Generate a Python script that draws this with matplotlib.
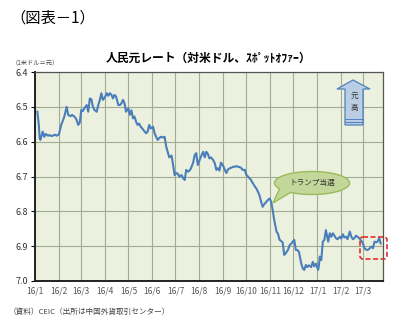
import numpy as np
import pandas as pd
import matplotlib
matplotlib.use("Agg")
import matplotlib.pyplot as plt
import matplotlib.dates as mdates
import matplotlib.transforms as mtrans
from matplotlib.patches import Polygon, FancyBboxPatch

plt.rcParams['font.family'] = ['Noto Sans CJK JP', 'DejaVu Sans']

# 人民元レート（1米ドル＝元）: 図から読み取った値
dates = [
    '2016-01-04', '2016-01-06', '2016-01-07', '2016-01-08', '2016-01-11', '2016-01-13', '2016-01-15',
    '2016-01-18', '2016-01-20', '2016-01-22', '2016-01-25', '2016-01-27', '2016-01-29', '2016-02-01',
    '2016-02-04', '2016-02-08', '2016-02-11', '2016-02-13', '2016-02-16', '2016-02-18', '2016-02-22',
    '2016-02-24', '2016-02-26', '2016-02-28', '2016-03-01', '2016-03-03', '2016-03-05', '2016-03-08',
    '2016-03-10', '2016-03-12', '2016-03-14', '2016-03-16', '2016-03-18', '2016-03-21', '2016-03-23',
    '2016-03-25', '2016-03-27', '2016-03-29', '2016-04-01', '2016-04-03', '2016-04-05', '2016-04-07',
    '2016-04-09', '2016-04-11', '2016-04-13', '2016-04-15', '2016-04-18', '2016-04-20', '2016-04-22',
    '2016-04-24', '2016-04-26', '2016-04-28', '2016-05-01', '2016-05-03', '2016-05-05', '2016-05-07',
    '2016-05-09', '2016-05-11', '2016-05-13', '2016-05-15', '2016-05-17', '2016-05-19', '2016-05-22',
    '2016-05-24', '2016-05-26', '2016-05-28', '2016-05-30', '2016-06-02', '2016-06-04', '2016-06-06',
    '2016-06-08', '2016-06-10', '2016-06-12', '2016-06-15', '2016-06-17', '2016-06-19', '2016-06-21',
    '2016-06-23', '2016-06-26', '2016-06-28', '2016-06-30', '2016-07-02', '2016-07-04', '2016-07-06',
    '2016-07-09', '2016-07-11', '2016-07-13', '2016-07-15', '2016-07-17', '2016-07-19', '2016-07-21',
    '2016-07-24', '2016-07-26', '2016-07-28', '2016-07-30', '2016-08-01', '2016-08-03', '2016-08-06',
    '2016-08-08', '2016-08-10', '2016-08-12', '2016-08-14', '2016-08-16', '2016-08-19', '2016-08-21',
    '2016-08-23', '2016-08-25', '2016-08-27', '2016-08-29', '2016-09-01', '2016-09-03', '2016-09-05',
    '2016-09-07', '2016-09-09', '2016-09-11', '2016-09-14', '2016-09-16', '2016-09-18', '2016-09-20',
    '2016-09-22', '2016-09-24', '2016-09-26', '2016-09-29', '2016-10-01', '2016-10-03', '2016-10-05',
    '2016-10-07', '2016-10-09', '2016-10-12', '2016-10-14', '2016-10-16', '2016-10-18', '2016-10-20',
    '2016-10-22', '2016-10-24', '2016-10-27', '2016-10-29', '2016-10-31', '2016-11-02', '2016-11-04',
    '2016-11-06', '2016-11-09', '2016-11-11', '2016-11-13', '2016-11-15', '2016-11-17', '2016-11-19',
    '2016-11-21', '2016-11-24', '2016-11-26', '2016-11-28', '2016-11-30', '2016-12-02', '2016-12-04',
    '2016-12-06', '2016-12-08', '2016-12-11', '2016-12-13', '2016-12-15', '2016-12-17', '2016-12-19',
    '2016-12-21', '2016-12-24', '2016-12-26', '2016-12-28', '2016-12-30', '2017-01-02', '2017-01-03',
    '2017-01-04', '2017-01-06', '2017-01-08', '2017-01-10', '2017-01-12', '2017-01-15', '2017-01-17',
    '2017-01-19', '2017-01-21', '2017-01-23', '2017-01-25', '2017-01-27', '2017-01-30', '2017-02-01',
    '2017-02-03', '2017-02-05', '2017-02-07', '2017-02-09', '2017-02-12', '2017-02-14', '2017-02-16',
    '2017-02-18', '2017-02-20', '2017-02-22', '2017-02-24', '2017-02-27', '2017-03-01', '2017-03-03',
    '2017-03-05', '2017-03-07', '2017-03-09', '2017-03-12', '2017-03-14', '2017-03-16', '2017-03-18',
    '2017-03-20', '2017-03-22', '2017-03-24',
]
rates = [
    6.514, 6.553, 6.590, 6.595, 6.571, 6.586, 6.578,
    6.583, 6.581, 6.584, 6.582, 6.580, 6.583, 6.579,
    6.552, 6.528, 6.500, 6.523, 6.527, 6.523, 6.530,
    6.538, 6.552, 6.545, 6.509, 6.512, 6.504, 6.495,
    6.514, 6.476, 6.478, 6.500, 6.509, 6.514, 6.495,
    6.480, 6.461, 6.480, 6.471, 6.461, 6.468, 6.461,
    6.465, 6.476, 6.466, 6.470, 6.495, 6.495, 6.490,
    6.480, 6.490, 6.514, 6.504, 6.523, 6.510, 6.533,
    6.528, 6.543, 6.552, 6.548, 6.557, 6.562, 6.571,
    6.576, 6.571, 6.552, 6.562, 6.557, 6.576, 6.586,
    6.595, 6.590, 6.586, 6.588, 6.586, 6.614, 6.629,
    6.645, 6.640, 6.667, 6.696, 6.690, 6.692, 6.700,
    6.696, 6.705, 6.710, 6.681, 6.686, 6.684, 6.677,
    6.660, 6.638, 6.633, 6.667, 6.655, 6.643, 6.629,
    6.645, 6.629, 6.635, 6.648, 6.645, 6.653, 6.662,
    6.681, 6.676, 6.683, 6.660, 6.670, 6.681, 6.690,
    6.680, 6.677, 6.675, 6.672, 6.672, 6.670, 6.672,
    6.673, 6.675, 6.681, 6.681, 6.696, 6.700, 6.705,
    6.710, 6.718, 6.729, 6.735, 6.744, 6.755, 6.772,
    6.787, 6.780, 6.772, 6.767, 6.763, 6.772, 6.796,
    6.825, 6.858, 6.865, 6.882, 6.885, 6.890, 6.925,
    6.920, 6.910, 6.897, 6.893, 6.887, 6.882, 6.911,
    6.911, 6.916, 6.949, 6.964, 6.968, 6.954, 6.960,
    6.955, 6.960, 6.945, 6.958, 6.950, 6.968, 6.955,
    6.930, 6.940, 6.887, 6.882, 6.854, 6.887, 6.863,
    6.873, 6.863, 6.870, 6.877, 6.880, 6.873, 6.878,
    6.866, 6.875, 6.873, 6.880, 6.858, 6.873, 6.880,
    6.877, 6.870, 6.873, 6.877, 6.885, 6.892, 6.906,
    6.910, 6.911, 6.908, 6.901, 6.906, 6.887, 6.889,
    6.887, 6.877, 6.892,
]
y_ticks = [6.4, 6.5, 6.6, 6.7, 6.8, 6.9, 7.0]
x_start, x_end = '2016-01-01', '2017-03-27'

W, H = 403, 323
fig = plt.figure(figsize=(W / 100, H / 100), dpi=100)
ax = fig.add_axes([35 / W, 1 - 281 / H, 348 / W, 209 / H])
ax.set_facecolor('#EBF1DE')

x = pd.to_datetime(dates)
ax.plot(x, rates, color='#4A7EBB', linewidth=1.5, zorder=3)

ax.set_xlim(pd.Timestamp(x_start), pd.Timestamp(x_end))
ax.set_ylim(7.0, 6.4)
ax.set_yticks(y_ticks)
ax.yaxis.set_major_formatter(plt.FuncFormatter(lambda v, p: f'{v:.1f}'))
ax.xaxis.set_major_locator(mdates.MonthLocator())
ax.xaxis.set_major_formatter(plt.FuncFormatter(
    lambda v, p: f'{mdates.num2date(v).year % 100}/{mdates.num2date(v).month}'))

ax.grid(True, color='#A3AA93', linewidth=0.8)
ax.tick_params(axis='y', labelsize=6.5, length=3, width=0.8, pad=2, labelcolor='#333333')
ax.tick_params(axis='x', labelsize=6, length=0, pad=4, labelcolor='#555555')
for side in ['left', 'bottom']:
    ax.spines[side].set_color('#222222')
    ax.spines[side].set_linewidth(1.4)
for side in ['top', 'right']:
    ax.spines[side].set_color('#555555')
    ax.spines[side].set_linewidth(0.9)

# テキスト
fig.text(10 / W, 1 - 18 / H, '（図表－1）', fontsize=11, va='center', ha='left')
fig.text(209 / W, 1 - 58 / H, '人民元レート（対米ドル、ｽﾎﾟｯﾄｵﾌｧｰ）', fontsize=8.5,
         fontweight='bold', va='center', ha='center')
fig.text(12 / W, 1 - 62 / H, '（1米ドル＝元）', fontsize=4.5, va='center', ha='left', color='#444444')
fig.text(9 / W, 1 - 312 / H, '（資料）CEIC（出所は中国外貨取引センター）', fontsize=5.5,
         va='center', ha='left', color='#444444')

# 参照画像のピクセル座標で図形を描く
px = mtrans.Affine2D().scale(1 / W, -1 / H).translate(0, 1) + fig.transFigure

# 吹き出し「トランプ当選」
cx, cy, a, b = 312, 183, 37.5, 11.5
t1 = np.linspace(0, np.deg2rad(125), 60)
t2 = np.linspace(np.deg2rad(150), 2 * np.pi, 90)
pts = [(cx + a * np.cos(t), cy + b * np.sin(t)) for t in t1]
pts.append((273, 203))
pts += [(cx + a * np.cos(t), cy + b * np.sin(t)) for t in t2]
fig.patches.append(Polygon(pts, closed=True, transform=px, facecolor='#C4D79B',
                           edgecolor='#9BBB59', linewidth=1.0, zorder=5))
fig.text(312 / W, 1 - 183 / H, 'トランプ当選', fontsize=5.5, ha='center', va='center',
         color='#333333', zorder=6)

# 矢印「元高」
arrow = [(353, 80), (370, 89), (363, 89), (363, 125), (345, 125), (345, 89), (337, 89)]
fig.patches.append(Polygon(arrow, closed=True, transform=px, facecolor='#B9CDE5',
                           edgecolor='#4F81BD', linewidth=0.9, zorder=5))
for yy in [118.5, 121.5]:
    fig.lines.append(plt.Line2D([345, 363], [yy, yy], transform=px, color='#4F81BD',
                                linewidth=0.7, zorder=6))
fig.text(354 / W, 1 - 97 / H, '元', fontsize=5.5, ha='center', va='center', color='#333333', zorder=6)
fig.text(354 / W, 1 - 108 / H, '高', fontsize=5.5, ha='center', va='center', color='#333333', zorder=6)

# 赤い点線の枠
box = FancyBboxPatch((360, 237), 27, 22, boxstyle='round,pad=0,rounding_size=3',
                     transform=px, facecolor='none', edgecolor='#E03030',
                     linewidth=1.2, linestyle=(0, (3, 1.5)), zorder=6)
fig.patches.append(box)

fig.savefig('out.png', dpi=100)
